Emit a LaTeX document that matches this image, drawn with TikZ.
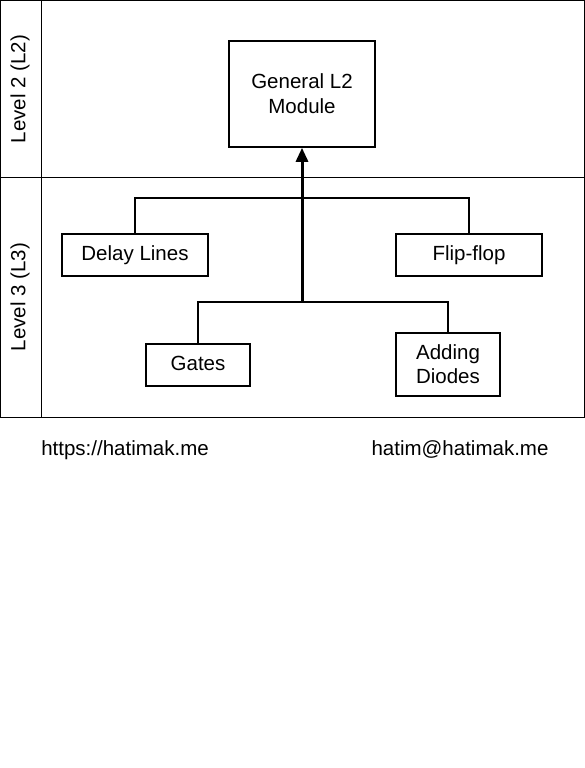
\documentclass[tikz,border=0pt]{standalone}
\usepackage{fontspec}
\setmainfont{Liberation Sans}
\usetikzlibrary{arrows.meta}
\begin{document}
\begin{tikzpicture}[x=1pt,y=-1pt,
  every node/.style={font=\fontsize{20.5}{24.6}\selectfont, inner sep=0pt},
  oneline/.style={text height=17.8pt, text depth=6.8pt},
  twoline/.style={text height=44pt, text depth=5.2pt},
  foot/.style={text height=19.4pt, text depth=5.2pt},
  modbox/.style={draw, line width=1.6pt, fill=white, align=center},
  lane/.style={line width=0.9pt},
  link/.style={line width=1.6pt},
  trunk/.style={line width=3pt, -{Triangle[length=14pt,width=12pt]}}
]
\useasboundingbox (0,0) rectangle (585,768);
% frame and lanes
\draw[lane] (0.5,0.5) rectangle (584.5,417);
\draw[lane] (41,0.5) -- (41,417);
\draw[lane] (0.5,177) -- (584.5,177);
\node[rotate=90] (lab2) at (20,89) {Level 2 (L2)};
\node[rotate=90] (lab3) at (20,297) {Level 3 (L3)};
% boxes
\node[modbox, twoline, minimum width=146pt, minimum height=106pt] (l2) at (302,94) {General L2\\Module};
\node[modbox, oneline, minimum width=146pt, minimum height=42pt] (delay) at (135,255) {Delay Lines};
\node[modbox, oneline, minimum width=146pt, minimum height=42pt] (flip) at (469,255) {Flip-flop};
\node[modbox, oneline, minimum width=104pt, minimum height=42pt] (gates) at (198,365) {Gates};
\node[modbox, twoline, minimum width=104pt, minimum height=63pt] (adding) at (448,364.5) {Adding\\Diodes};
% junctions
\coordinate (jt) at (302,198);
\coordinate (jb) at (302,302);
\draw[link] (delay.north) |- (jt) -| (flip.north);
\draw[link] (gates.north) |- (jb) -| (adding.north);
\draw[trunk] (jb) -- (l2.south);
% footer
\node[foot] (url) at (125,448) {https://hatimak.me};
\node[foot] (mail) at (460,448) {hatim@hatimak.me};
\end{tikzpicture}
\end{document}
